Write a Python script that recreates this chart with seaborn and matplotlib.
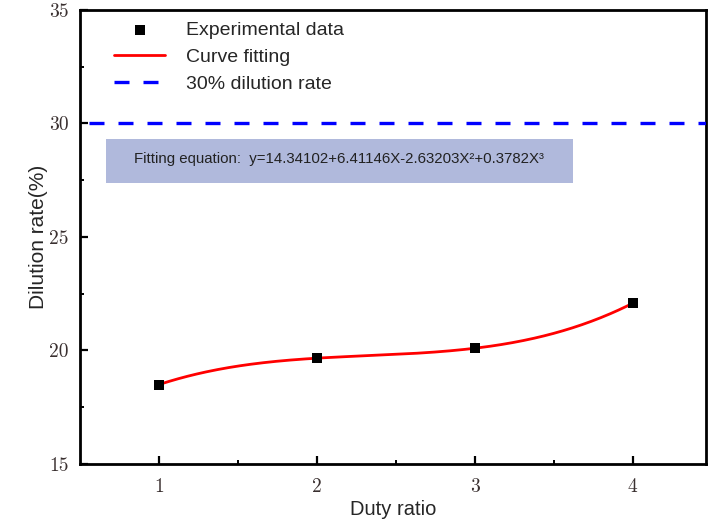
import numpy as np
import pandas as pd
import matplotlib
matplotlib.use("Agg")
import matplotlib.pyplot as plt
import seaborn as sns

# ---- data ----
duty_ratio = [1, 2, 3, 4]
dilution_rate = [18.50, 19.66, 20.10, 22.08]
fit_coeffs = [14.34102, 6.41146, -2.63203, 0.3782]  # c0 + c1 x + c2 x^2 + c3 x^3 (from the chart text)
threshold = 30
x_ticks = [1, 2, 3, 4]
y_ticks = [15, 20, 25, 30, 35]
legend_labels = ["Experimental data", "Curve fitting", "30% dilution rate"]
equation_text = "Fitting equation:  y=14.34102+6.41146X-2.63203X\u00b2+0.3782X\u00b3"

sns.set_theme(style="white")
plt.rcParams["font.family"] = ["Liberation Sans", "DejaVu Sans"]

fig = plt.figure(figsize=(7.1, 5.25), dpi=100)
ax = fig.add_axes([0.1127, 0.1162, 0.8817, 0.8648])

df_pts = pd.DataFrame({"x": duty_ratio, "y": dilution_rate})
xf = np.linspace(min(duty_ratio), max(duty_ratio), 300)
yf = np.polyval(fit_coeffs[::-1], xf)
df_fit = pd.DataFrame({"x": xf, "y": yf})

sns.lineplot(data=df_fit, x="x", y="y", ax=ax, color="#FF0000", lw=2.0,
             label=legend_labels[1], zorder=3)
sns.scatterplot(data=df_pts, x="x", y="y", ax=ax, marker="s", s=55, color="black",
                edgecolor="black", linewidth=0, label=legend_labels[0], zorder=4)
ax.axhline(threshold, xmin=0.014, xmax=1, color="#0000FF", lw=2.4,
           dashes=(4.5, 4.2), label=legend_labels[2], zorder=3)

ax.set_xlim(0.5, 4.465)
ax.set_ylim(15, 35)
ax.set_xticks(x_ticks)
ax.set_yticks(y_ticks)
ax.set_xticks([1.5, 2.5, 3.5], minor=True)
ax.set_yticks([17.5, 22.5, 27.5, 32.5], minor=True)
ax.tick_params(which="major", direction="in", length=6, width=1.6, colors="black",
               labelcolor="#3a3030", labelsize=14, bottom=True, left=True)
ax.tick_params(axis="x", which="major", pad=10)
ax.tick_params(axis="y", which="major", pad=8)
ax.tick_params(which="minor", direction="in", length=3, width=1.4, colors="black",
               bottom=True, left=True)
for lab in ax.get_xticklabels() + ax.get_yticklabels():
    lab.set_family("cmr10")

for s in ax.spines.values():
    s.set_visible(True)
    s.set_color("black")
    s.set_linewidth(2.0)

ax.set_xlabel("Duty ratio", fontsize=14.5, labelpad=3)
ax.set_ylabel("Dilution rate(%)", fontsize=15, labelpad=1)

# equation box
ax.text((0.664 + 3.62) / 2, 28.45, equation_text, ha="center", va="center",
        fontsize=10.8, color="#222222", zorder=2)
ax.axhspan(27.36, 29.3, xmin=(0.664 - 0.5) / 3.965, xmax=(3.62 - 0.5) / 3.965,
           color="#B0B9DC", lw=0, zorder=1)

handles, labels = ax.get_legend_handles_labels()
order = [labels.index(l) for l in legend_labels]
ax.legend([handles[i] for i in order], [labels[i] for i in order],
          loc="upper left", bbox_to_anchor=(0.055, 0.975), frameon=False,
          fontsize=14, handlelength=2.6, handletextpad=1.1, labelspacing=0.48,
          borderpad=0, borderaxespad=0)

fig.savefig("out.png", dpi=100)
